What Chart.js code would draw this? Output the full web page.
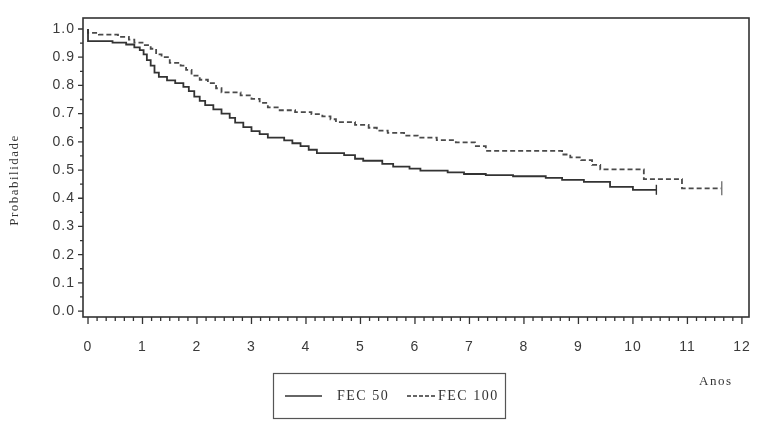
<!DOCTYPE html>
<html>
<head>
<meta charset="utf-8">
<script src="https://cdn.jsdelivr.net/npm/chart.js@4"></script>
<style>
  html, body { margin: 0; padding: 0; background: #fff; }
  #wrap { width: 764px; height: 428px; }
</style>
</head>
<body>
<div id="wrap"><canvas id="grafico"></canvas></div>
<script>
// valores (tempo em anos, probabilidade)
const FEC50_T = [0, 0, 0.45, 0.7, 0.85, 0.95, 1.02, 1.08, 1.15, 1.22, 1.3, 1.45, 1.6, 1.75, 1.85, 1.95,
                 2.05, 2.15, 2.3, 2.45, 2.6, 2.7, 2.85, 3.0, 3.15, 3.3, 3.6, 3.75, 3.9, 4.05, 4.2, 4.7,
                 4.9, 5.05, 5.4, 5.6, 5.9, 6.1, 6.6, 6.9, 7.3, 7.8, 8.4, 8.7, 9.1, 9.58, 10.0, 10.43];
const FEC50_P = [1.0, 0.957, 0.952, 0.945, 0.935, 0.925, 0.91, 0.89, 0.87, 0.845, 0.83, 0.818, 0.808, 0.795, 0.78, 0.76,
                 0.745, 0.73, 0.715, 0.70, 0.685, 0.668, 0.652, 0.638, 0.627, 0.615, 0.605, 0.595, 0.585, 0.572, 0.56, 0.553,
                 0.54, 0.533, 0.522, 0.512, 0.505, 0.498, 0.492, 0.486, 0.482, 0.478, 0.472, 0.465, 0.458, 0.44, 0.43, 0.43];

const FEC100_T = [0, 0, 0.2, 0.55, 0.75, 0.85, 1.0, 1.15, 1.25, 1.35, 1.5, 1.7, 1.8, 1.9, 2.05, 2.2,
                  2.35, 2.45, 2.8, 3.0, 3.15, 3.3, 3.5, 3.8, 4.1, 4.3, 4.45, 4.55, 4.9, 5.15, 5.3, 5.5,
                  5.8, 6.05, 6.4, 6.75, 7.1, 7.3, 8.7, 8.85, 9.05, 9.25, 9.4, 10.2, 10.9, 11.63];
const FEC100_P = [1.0, 0.986, 0.98, 0.972, 0.962, 0.952, 0.943, 0.93, 0.91, 0.9, 0.88, 0.87, 0.855, 0.835, 0.82, 0.808,
                  0.79, 0.775, 0.765, 0.752, 0.738, 0.722, 0.712, 0.705, 0.698, 0.69, 0.68, 0.67, 0.66, 0.65, 0.64, 0.632,
                  0.622, 0.615, 0.606, 0.598, 0.585, 0.568, 0.555, 0.545, 0.535, 0.518, 0.502, 0.468, 0.435, 0.435];

const X_TICKS = [0, 1, 2, 3, 4, 5, 6, 7, 8, 9, 10, 11, 12];
const Y_TICKS = [0, 0.1, 0.2, 0.3, 0.4, 0.5, 0.6, 0.7, 0.8, 0.9, 1.0];
const SERIES_LABELS = ['FEC 50', 'FEC 100'];
const X_TITLE = 'Anos';
const Y_TITLE = 'Probabilidade';

const pares = (ts, ps) => ts.map((t, i) => ({ x: t, y: ps[i] }));
const TINTA = '#333';

// eixos, marcas menores, moldura, legenda e títulos
const extras = {
    id: 'extras',
    beforeDraw(chart) {
        chart.ctx.letterSpacing = '1px';
    },
    afterDraw(chart) {
        const { ctx, chartArea: a, scales: { x, y } } = chart;
        ctx.save();
        ctx.strokeStyle = TINTA;
        ctx.lineWidth = 1.6;
        ctx.strokeRect(a.left, a.top, a.right - a.left, a.bottom - a.top);

        ctx.lineWidth = 1.3;
        ctx.beginPath();
        Y_TICKS.forEach(v => {
            const py = y.getPixelForValue(v);
            ctx.moveTo(a.left - 5, py); ctx.lineTo(a.left, py);
            if (v < 1) {
                const pm = y.getPixelForValue(v + 0.05);
                ctx.moveTo(a.left - 3, pm); ctx.lineTo(a.left, pm);
            }
        });
        X_TICKS.forEach(v => {
            const px = x.getPixelForValue(v);
            ctx.moveTo(px, a.bottom); ctx.lineTo(px, a.bottom + 7);
            if (v < 12) {
                for (let k = 1; k < 6; k++) {
                    const pm = x.getPixelForValue(v + k / 6);
                    ctx.moveTo(pm, a.bottom); ctx.lineTo(pm, a.bottom + 4);
                }
            }
        });
        ctx.stroke();

        // legenda
        ctx.lineWidth = 1.2;
        ctx.strokeStyle = '#555';
        ctx.strokeRect(273.5, 373.5, 232, 45);
        ctx.lineWidth = 1.4;
        ctx.strokeStyle = TINTA;
        ctx.beginPath();
        ctx.moveTo(285, 396); ctx.lineTo(322, 396);
        ctx.stroke();
        ctx.setLineDash([4, 2]);
        ctx.beginPath();
        ctx.moveTo(407, 396); ctx.lineTo(435, 396);
        ctx.stroke();
        ctx.setLineDash([]);

        ctx.fillStyle = TINTA;
        ctx.font = '14px "Liberation Serif"';
        ctx.letterSpacing = '1.5px';
        ctx.textBaseline = 'middle';
        ctx.textAlign = 'left';
        ctx.fillText(SERIES_LABELS[0], 337, 396);
        ctx.fillText(SERIES_LABELS[1], 438, 396);

        ctx.font = '13px "Liberation Serif"';
        ctx.letterSpacing = '1.5px';
        ctx.fillText(X_TITLE, 699, 382);

        ctx.translate(15, 180);
        ctx.rotate(-Math.PI / 2);
        ctx.textAlign = 'center';
        ctx.letterSpacing = '1.5px';
        ctx.fillText(Y_TITLE, 0, 0);
        ctx.restore();
    }
};

new Chart(document.getElementById('grafico'), {
    type: 'line',
    data: {
        datasets: [{
            label: SERIES_LABELS[0],
            data: pares(FEC50_T, FEC50_P),
            stepped: true,
            borderColor: TINTA,
            borderWidth: 1.8,
            pointStyle: 'line',
            rotation: 90,
            pointRadius: c => c.dataIndex === c.dataset.data.length - 1 ? 5 : 0,
            pointBorderColor: TINTA,
            pointBorderWidth: 1.4
        }, {
            label: SERIES_LABELS[1],
            data: pares(FEC100_T, FEC100_P),
            stepped: true,
            borderColor: '#4a4a4a',
            borderWidth: 1.8,
            borderDash: [5, 3],
            pointStyle: 'line',
            rotation: 90,
            pointRadius: c => c.dataIndex === c.dataset.data.length - 1 ? 7 : 0,
            pointBorderColor: '#777',
            pointBorderWidth: 1.4
        }]
    },
    options: {
        responsive: true,
        maintainAspectRatio: false,
        animation: false,
        layout: { padding: { top: 18, right: 15, bottom: 0, left: 0 } },
        plugins: { legend: { display: false }, tooltip: { enabled: false } },
        scales: {
            x: {
                type: 'linear',
                min: -0.092,
                max: 12.13,
                grid: { display: false, drawTicks: false },
                border: { display: false },
                afterBuildTicks: s => { s.ticks = X_TICKS.map(v => ({ value: v })); },
                afterFit: s => { s.height = 111; s.paddingLeft = 0; s.paddingRight = 0; },
                ticks: {
                    padding: 22,
                    color: '#3a3a3a',
                    font: { family: '"Liberation Sans"', size: 14 },
                    callback: v => String(v),
                    maxRotation: 0,
                    autoSkip: false
                }
            },
            y: {
                min: -0.021,
                max: 1.039,
                grid: { display: false, drawTicks: false },
                border: { display: false },
                afterBuildTicks: s => { s.ticks = Y_TICKS.map(v => ({ value: v })); },
                afterFit: s => { s.width = 83; s.paddingTop = 0; s.paddingBottom = 0; },
                ticks: {
                    padding: 8,
                    color: '#3a3a3a',
                    font: { family: '"Liberation Sans"', size: 14 },
                    callback: v => Number(v).toFixed(1),
                    autoSkip: false
                }
            }
        }
    },
    plugins: [extras]
});
</script>
</body>
</html>
